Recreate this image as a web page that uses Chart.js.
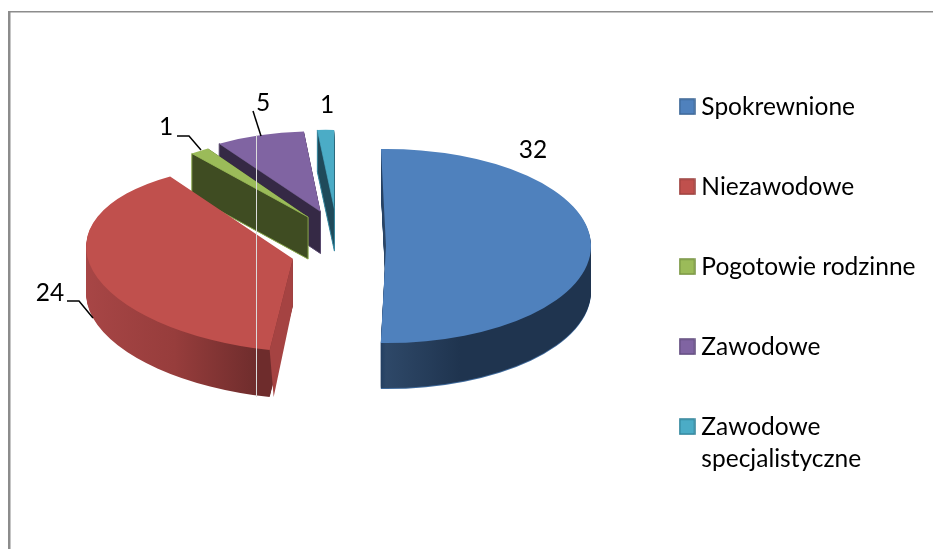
<!DOCTYPE html>
<html><head><meta charset="utf-8">
<style>html,body{margin:0;padding:0;background:#fff}canvas{display:block}</style>
<script src="https://cdn.jsdelivr.net/npm/chart.js@4"></script>
</head><body><canvas id="c" width="933" height="549"></canvas>
<script>
const categories = ['Spokrewnione', 'Niezawodowe', 'Pogotowie rodzinne', 'Zawodowe', ['Zawodowe', 'specjalistyczne']];
const values = [32, 24, 1, 5, 1];
const topColors = ['#4f81bd', '#c0504d', '#9bbb59', '#8064a2', '#4bacc6'];
const legendEdges = ['#3a6494', '#9a3f3d', '#76923f', '#5f4a7c', '#2f8299'];

// Look of the tilted, exploded pie (projection of each unit-circle slice, wall depth, wall shading)
const centre = {x: 338, y: 246, explodeX: 48, explodeY: 37};
const projection = [
  {a: 205, b: 0,   c: 0,   d: 97, depth: 45},
  {a: 206, b: -18, c: 20,  d: 92, depth: 47},
  {a: 194, b: -16, c: 2,   d: 83, depth: 42},
  {a: 182, b: -6,  c: 5,   d: 80, depth: 42},
  {a: 170, b: -4,  c: 6,   d: 79, depth: 42}
];
const wallStops = [
  [[0, '#1d3a5f'], [0.48, '#1d3a5f'], [0.5, '#2e4868'], [0.68, '#1f344f'], [1, '#1f344f']],
  [[0, '#a84646'], [0.25, '#973d3c'], [0.46, '#6e2c2c'], [1, '#6e2c2c']],
  [[0, '#3f4c22'], [1, '#3f4c22']],
  [[0, '#352945'], [1, '#352945']],
  [[0, '#1f4a5a'], [1, '#1f4a5a']]
];
const rimColors = ['#3f6a9c', null, null, null, null];
const faceFills = [null, '#a54342', '#3f4c22', '#352945', '#1f4a5a'];
const faceEdges = [null, null, '#8aa84e', '#5a4a70', '#3a8ba3'];
const faceLean = [0, 4, 0, 0, 0];

const valueLabels = [
  {x: 533, y: 150},
  {x: 50, y: 293, lead: [[67, 301], [79, 301], [93, 318]]},
  {x: 166, y: 127, lead: [[177, 136], [189, 136], [201, 150]]},
  {x: 263, y: 103, lead: [[253, 111], [261, 136]]},
  {x: 327, y: 105}
];

function legendSwatch(fill, edge) {
  const cv = document.createElement('canvas');
  cv.width = 17; cv.height = 17;
  const g = cv.getContext('2d');
  g.fillStyle = fill;
  g.fillRect(1, 1, 15, 15);
  g.strokeStyle = edge;
  g.lineWidth = 1.5;
  g.strokeRect(1, 1, 15, 15);
  return cv;
}

const pie3d = {
  id: 'pie3d',
  beforeDraw(chart) {
    const ctx = chart.ctx;
    ctx.save();
    ctx.fillStyle = '#8c8c8c';
    ctx.fillRect(8, 11, 2.5, 538);
    ctx.fillRect(8, 11, 925, 1.5);
    ctx.restore();
  },
  beforeDatasetsDraw(chart) {
    const ctx = chart.ctx;
    const arcs = chart.getDatasetMeta(0).data;
    [4, 3, 2, 1, 0].forEach(i => {
      const arc = arcs[i], p = projection[i], R = arc.outerRadius;
      const mid = (arc.startAngle + arc.endAngle) / 2;
      const ax = centre.x + centre.explodeX * Math.cos(mid);
      const ay = centre.y + centre.explodeY * Math.sin(mid);
      const paint = (dy, fill) => {
        ctx.save();
        ctx.translate(ax, ay + dy);
        ctx.transform(p.a / R, p.c / R, p.b / R, p.d / R, 0, 0);
        ctx.translate(-arc.x, -arc.y);
        const shim = Object.create(arc);
        shim.options = {
          backgroundColor: typeof fill === 'function' ? fill() : fill,
          borderColor: 'transparent', borderWidth: 0, borderAlign: 'center', borderJoinStyle: 'round',
          borderRadius: 0, spacing: 0, offset: 0, circular: true, selfJoin: false
        };
        arc.draw.call(shim, ctx);
        ctx.restore();
      };
      const wall = () => {
        const g = ctx.createLinearGradient(arc.x - R, 0, arc.x + R, 0);
        wallStops[i].forEach(s => g.addColorStop(s[0], s[1]));
        return g;
      };
      const facePath = angle => {
        const cs = Math.cos(angle), sn = Math.sin(angle);
        const fx = ax + p.a * cs + p.b * sn, fy = ay + p.c * cs + p.d * sn;
        ctx.beginPath();
        ctx.moveTo(ax, ay);
        ctx.lineTo(fx, fy);
        ctx.lineTo(fx + faceLean[i], fy + p.depth);
        ctx.lineTo(ax, ay + p.depth);
        ctx.closePath();
      };
      if (rimColors[i]) paint(p.depth + 1, rimColors[i]);
      for (let k = p.depth; k >= 1; k--) paint(k, wall);
      if (faceFills[i]) {
        ctx.save();
        ctx.fillStyle = faceFills[i];
        if (i > 1) { facePath(arc.endAngle); ctx.fill(); }
        facePath(arc.startAngle);
        ctx.fill();
        if (faceEdges[i]) {
          ctx.strokeStyle = faceEdges[i];
          ctx.lineWidth = 1;
          ctx.stroke();
        }
        ctx.restore();
      }
      paint(0, topColors[i]);
    });
    ctx.save();
    ctx.strokeStyle = '#dcdcdc';
    ctx.lineWidth = 1;
    ctx.beginPath();
    ctx.moveTo(256.5, 135);
    ctx.lineTo(256.5, 397);
    ctx.stroke();
    ctx.restore();
    return false;
  },
  afterDraw(chart) {
    const ctx = chart.ctx;
    ctx.save();
    ctx.strokeStyle = '#000';
    ctx.lineWidth = 1.5;
    ctx.fillStyle = '#000';
    ctx.font = '24.5px Lato';
    ctx.textAlign = 'center';
    ctx.textBaseline = 'middle';
    valueLabels.forEach((l, i) => {
      ctx.fillText(String(values[i]), l.x, l.y);
      if (l.lead) {
        ctx.beginPath();
        l.lead.forEach((pt, j) => j ? ctx.lineTo(pt[0], pt[1]) : ctx.moveTo(pt[0], pt[1]));
        ctx.stroke();
      }
    });
    ctx.restore();
  }
};

new Chart(document.getElementById('c'), {
  type: 'pie',
  plugins: [pie3d],
  data: {
    labels: categories,
    datasets: [{data: values, backgroundColor: topColors, borderWidth: 0, radius: 100}]
  },
  options: {
    responsive: false,
    animation: false,
    rotation: -1.4,
    layout: {padding: {top: 39, right: 7.5, left: 0, bottom: 0}},
    plugins: {
      tooltip: {enabled: false},
      legend: {
        position: 'right',
        align: 'start',
        labels: {
          usePointStyle: true,
          pointStyleWidth: 4,
          boxHeight: 16,
          padding: 55.5,
          color: '#000',
          font: {family: 'Lato', size: 24.5, lineHeight: 32 / 24.5},
          generateLabels(chart) {
            return Chart.overrides.pie.plugins.legend.labels.generateLabels(chart).map((it, i) => {
              it.pointStyle = legendSwatch(topColors[i], legendEdges[i]);
              return it;
            });
          }
        }
      }
    }
  }
});
</script></body></html>
